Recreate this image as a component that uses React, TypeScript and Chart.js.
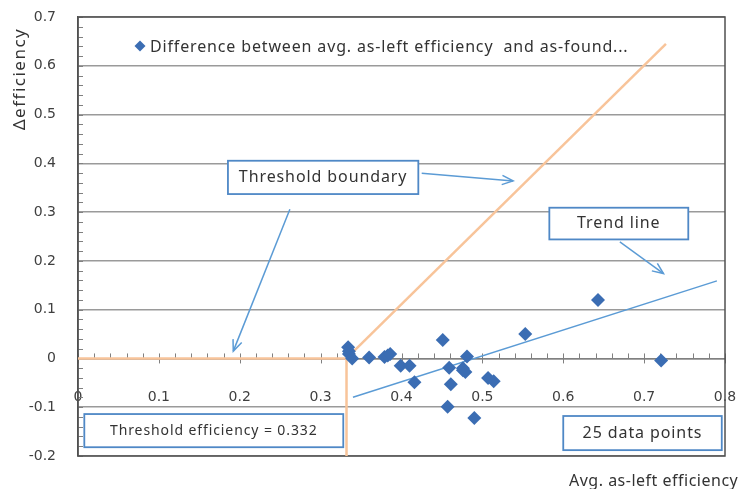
import React, { useEffect, useRef } from "react";
import { Chart, registerables } from "chart.js";

Chart.register(...registerables);

// ---------- data ----------
const seriesLabel = "Difference between avg. as-left efficiency  and as-found...";
const asLeftEfficiency = [
  0.334, 0.335, 0.335, 0.339, 0.36, 0.379, 0.383, 0.386, 0.399, 0.41, 0.416, 0.451, 0.457,
  0.459, 0.461, 0.476, 0.476, 0.479, 0.481, 0.49, 0.507, 0.514, 0.553, 0.643, 0.721,
];
const deltaEfficiency = [
  0.023, 0.015, 0.009, 0.0, 0.002, 0.003, 0.006, 0.009, -0.015, -0.015, -0.049, 0.038, -0.099,
  -0.019, -0.053, -0.02, -0.024, -0.028, 0.004, -0.122, -0.04, -0.047, 0.05, 0.12, -0.004,
];

const thresholdEfficiency = 0.332;
const boundaryFloorX = [0, thresholdEfficiency, thresholdEfficiency];
const boundaryFloorY = [0, 0, -0.2];
const boundaryRiseX = [thresholdEfficiency, 0.727];
const boundaryRiseY = [0, 0.645];

const trendX = [0.34, 0.79];
const trendY = [-0.0795, 0.159];

const xTickValues = [0, 0.1, 0.2, 0.3, 0.4, 0.5, 0.6, 0.7, 0.8];
const xTickLabels = ["0", "0.1", "0.2", "0.3", "0.4", "0.5", "0.6", "0.7", "0.8"];
const yTickValues = [-0.2, -0.1, 0, 0.1, 0.2, 0.3, 0.4, 0.5, 0.6, 0.7];
const yTickLabels = ["-0.2", "-0.1", "0", "0.1", "0.2", "0.3", "0.4", "0.5", "0.6", "0.7"];

const xTitle = "Avg. as-left efficiency";
const yTitle = "\u0394efficiency";

// callouts (in data units)
const calloutTexts = [
  "Threshold boundary",
  "Trend line",
  "Threshold efficiency = 0.332",
  "25 data points",
];
const calloutBoxes = [
  { x0: 0.1854, x1: 0.4208, y0: 0.4053, y1: 0.337, size: 16 },
  { x0: 0.5828, x1: 0.7546, y0: 0.309, y1: 0.244, size: 16 },
  { x0: 0.0078, x1: 0.328, y0: -0.114, y1: -0.182, size: 14 },
  { x0: 0.6, x1: 0.796, y0: -0.118, y1: -0.188, size: 16 },
];
const calloutArrows = [
  { fx: 0.425, fy: 0.3795, tx: 0.538, ty: 0.364 },
  { fx: 0.262, fy: 0.306, tx: 0.192, ty: 0.015 },
  { fx: 0.67, fy: 0.239, tx: 0.724, ty: 0.174 },
];

const pts = (xs: number[], ys: number[]) => xs.map((x, i) => ({ x, y: ys[i] }));

const FONT = "'Noto Sans', sans-serif";
const BLUE_LINE = "#5b9bd5";
const ORANGE = "#f8c49a";
const POINT = "#3b6db3";

const decorPlugin = {
  id: "decor",
  beforeDatasetsDraw(chart: any) {
    const { ctx, chartArea: a, scales } = chart;
    const xs = scales.x;
    const ys = scales.y;
    ctx.save();
    // minor ticks
    ctx.strokeStyle = "#808080";
    ctx.lineWidth = 1;
    const y0 = ys.getPixelForValue(0);
    for (let i = 0; i <= 40; i++) {
      const v = i * 0.02;
      const px = Math.round(xs.getPixelForValue(v)) + 0.5;
      const major = i % 5 === 0;
      ctx.beginPath();
      ctx.moveTo(px, y0 - 5);
      ctx.lineTo(px, y0 + (major ? 5 : 0));
      ctx.stroke();
    }
    for (let i = -10; i <= 35; i++) {
      const v = i * 0.02;
      const py = Math.round(ys.getPixelForValue(v)) + 0.5;
      ctx.beginPath();
      ctx.moveTo(a.left, py);
      ctx.lineTo(a.left + 5, py);
      ctx.stroke();
    }
    // frame
    ctx.strokeStyle = "#505050";
    ctx.lineWidth = 1.5;
    ctx.strokeRect(a.left, a.top, a.right - a.left, a.bottom - a.top);
    ctx.restore();
  },
  afterDatasetsDraw(chart: any) {
    const { ctx, chartArea: a, scales } = chart;
    const xs = scales.x;
    const ys = scales.y;
    ctx.save();
    // arrows
    ctx.strokeStyle = BLUE_LINE;
    ctx.lineWidth = 1.5;
    calloutArrows.forEach((ar) => {
      const fx = xs.getPixelForValue(ar.fx);
      const fy = ys.getPixelForValue(ar.fy);
      const tx = xs.getPixelForValue(ar.tx);
      const ty = ys.getPixelForValue(ar.ty);
      ctx.beginPath();
      ctx.moveTo(fx, fy);
      ctx.lineTo(tx, ty);
      ctx.stroke();
      const ang = Math.atan2(ty - fy, tx - fx);
      const L = 12;
      ctx.beginPath();
      ctx.moveTo(tx - L * Math.cos(ang - 0.4), ty - L * Math.sin(ang - 0.4));
      ctx.lineTo(tx, ty);
      ctx.lineTo(tx - L * Math.cos(ang + 0.4), ty - L * Math.sin(ang + 0.4));
      ctx.stroke();
    });
    // boxes
    (ctx as any).letterSpacing = "0.9px";
    calloutBoxes.forEach((b, i) => {
      const l = xs.getPixelForValue(b.x0);
      const r = xs.getPixelForValue(b.x1);
      const t = ys.getPixelForValue(b.y0);
      const bt = ys.getPixelForValue(b.y1);
      ctx.fillStyle = "#ffffff";
      ctx.fillRect(l, t, r - l, bt - t);
      ctx.strokeStyle = "#4f88c6";
      ctx.lineWidth = 1.8;
      ctx.strokeRect(l, t, r - l, bt - t);
      ctx.fillStyle = "#333333";
      ctx.font = `${b.size}px ${FONT}`;
      ctx.textAlign = "center";
      ctx.textBaseline = "middle";
      ctx.fillText(calloutTexts[i], (l + r) / 2, (t + bt) / 2);
    });
    // legend
    const ds = chart.data.datasets[0];
    const lx = a.left + 62;
    const ly = a.top + 29;
    ctx.fillStyle = POINT;
    ctx.beginPath();
    ctx.moveTo(lx, ly - 5.5);
    ctx.lineTo(lx + 5.5, ly);
    ctx.lineTo(lx, ly + 5.5);
    ctx.lineTo(lx - 5.5, ly);
    ctx.closePath();
    ctx.fill();
    ctx.fillStyle = "#333333";
    ctx.font = `16px ${FONT}`;
    (ctx as any).letterSpacing = "0.85px";
    ctx.textAlign = "left";
    ctx.textBaseline = "middle";
    ctx.fillText(ds.label, lx + 10, ly + 1);
    ctx.restore();
  },
  afterDraw(chart: any) {
    const { ctx, chartArea: a } = chart;
    ctx.save();
    ctx.fillStyle = "#333333";
    ctx.font = `16px ${FONT}`;
    (ctx as any).letterSpacing = "0.5px";
    ctx.textAlign = "left";
    ctx.textBaseline = "middle";
    ctx.fillText(xTitle, a.right - 156, a.bottom + 25);
    ctx.translate(20, a.top + 62);
    ctx.rotate(-Math.PI / 2);
    ctx.font = `17px ${FONT}`;
    (ctx as any).letterSpacing = "1.5px";
    ctx.textAlign = "center";
    ctx.fillText(yTitle, 0, 0);
    ctx.restore();
  },
};

export default function App() {
  const ref = useRef<HTMLCanvasElement>(null);
  useEffect(() => {
    document.body.style.margin = "0";
    const chart = new Chart(ref.current as HTMLCanvasElement, {
      type: "scatter",
      data: {
        datasets: [
          {
            label: seriesLabel,
            data: pts(asLeftEfficiency, deltaEfficiency),
            pointStyle: "rectRot",
            pointRadius: 7,
            backgroundColor: POINT,
            borderColor: POINT,
            borderWidth: 0,
            order: 0,
          },
          {
            label: "Threshold floor",
            data: pts(boundaryFloorX, boundaryFloorY),
            showLine: true,
            pointRadius: 0,
            borderColor: ORANGE,
            borderWidth: 2.5,
            order: 2,
          },
          {
            label: "Threshold rise",
            data: pts(boundaryRiseX, boundaryRiseY),
            showLine: true,
            pointRadius: 0,
            borderColor: ORANGE,
            borderWidth: 2.5,
            order: 2,
          },
          {
            label: "Trend",
            data: pts(trendX, trendY),
            showLine: true,
            pointRadius: 0,
            borderColor: BLUE_LINE,
            borderWidth: 1.5,
            order: 1,
          },
        ],
      },
      options: {
        responsive: false,
        devicePixelRatio: 1,
        animation: false,
        layout: { padding: { left: 0, top: 17, right: 15, bottom: 33 } },
        plugins: { legend: { display: false }, tooltip: { enabled: false } },
        scales: {
          x: {
            type: "linear",
            min: 0,
            max: 0.8,
            position: { y: 0 } as any,
            afterBuildTicks: (s: any) => {
              s.ticks = xTickValues.map((v) => ({ value: v }));
            },
            afterFit: (s: any) => {
              s.paddingLeft = 0;
              s.paddingRight = 0;
            },
            grid: { display: false, drawTicks: false },
            border: { display: true, color: "#808080", width: 1.5 },
            ticks: {
              padding: 31,
              autoSkip: false,
              maxRotation: 0,
              color: "#404040",
              font: { family: "'DejaVu Sans', sans-serif", size: 14 },
              callback: (_v: any, i: number) => xTickLabels[i],
            },
          },
          y: {
            type: "linear",
            min: -0.2,
            max: 0.7,
            afterBuildTicks: (s: any) => {
              s.ticks = yTickValues.map((v) => ({ value: v }));
            },
            afterFit: (s: any) => {
              s.width = 78;
              s.paddingTop = 0;
              s.paddingBottom = 0;
            },
            grid: {
              drawTicks: false,
              lineWidth: 1.5,
              color: "#9a9a9a",
            },
            border: { display: true, color: "#505050", width: 1.5 },
            ticks: {
              padding: 22,
              autoSkip: false,
              color: "#404040",
              font: { family: "'DejaVu Sans', sans-serif", size: 14 },
              callback: (_v: any, i: number) => yTickLabels[i],
            },
          },
        },
      },
      plugins: [decorPlugin],
    });
    return () => chart.destroy();
  }, []);
  return (
    <div style={{ width: 740, height: 489 }}>
      <canvas ref={ref} width={740} height={489} style={{ display: "block" }} />
    </div>
  );
}
